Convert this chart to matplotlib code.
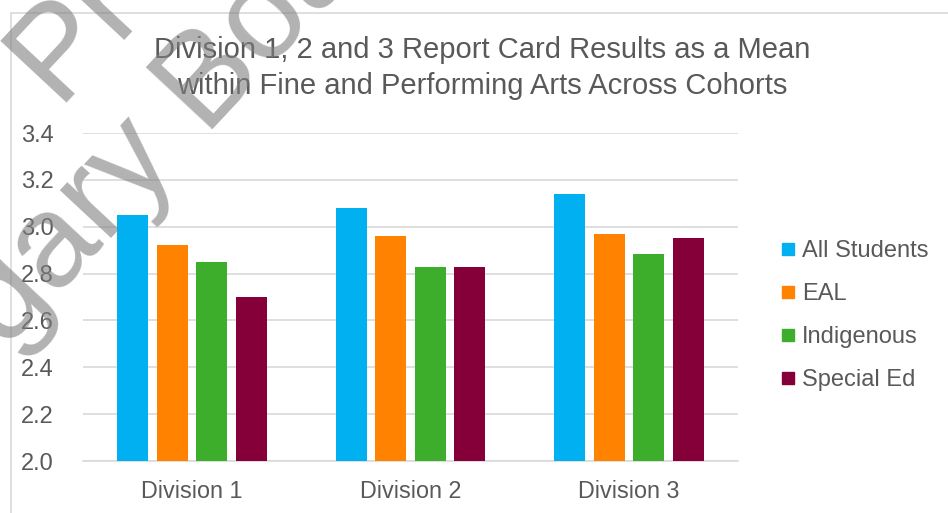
import matplotlib
matplotlib.use("Agg")
import matplotlib.pyplot as plt
import numpy as np
from matplotlib.lines import Line2D
from matplotlib.patches import Rectangle

plt.rcParams.update({
    'font.family': ['Liberation Sans', 'DejaVu Sans'],
    'text.color': '#595959',
    'axes.labelcolor': '#595959',
    'xtick.color': '#595959',
    'ytick.color': '#595959',
})

# data
divisions = ["Division 1", "Division 2", "Division 3"]
groups = ["All Students", "EAL", "Indigenous", "Special Ed"]
all_students = [3.05, 3.08, 3.14]
eal = [2.92, 2.96, 2.97]
indigenous = [2.85, 2.83, 2.885]
special_ed = [2.70, 2.83, 2.95]
colors = ["#00B0F0", "#FF8200", "#3DAE2B", "#850038"]
y_ticks = [2.0, 2.2, 2.4, 2.6, 2.8, 3.0, 3.2, 3.4]

W, H = 948, 513
fig = plt.figure(figsize=(W / 100, H / 100), dpi=100)

# chart border (light gray frame)
fig.patches.append(Rectangle((11 / W, -0.1), 1.2, 1 - 13 / H + 0.1,
                             transform=fig.transFigure, fill=False,
                             edgecolor='#d9d9d9', linewidth=1.2, zorder=0))

ax = fig.add_axes([83 / W, 1 - 461 / H, (738 - 83) / W, (461 - 133) / H])

series = [all_students, eal, indigenous, special_ed]
x = np.arange(len(divisions))
width = 0.142
step = 0.181
for i, (vals, col, lab) in enumerate(zip(series, colors, groups)):
    ax.bar(x + (i - 1.5) * step, np.array(vals) - 2.0, width, bottom=2.0,
           color=col, label=lab, zorder=3)

ax.set_xlim(-0.5, 2.5)
ax.set_ylim(2.0, 3.4)
ax.set_yticks(y_ticks)
ax.set_yticklabels([f"{v:.1f}" for v in y_ticks])
ax.set_xticks(x)
ax.set_xticklabels(divisions)
ax.tick_params(axis='y', length=0, pad=21, labelsize=17)
ax.tick_params(axis='x', length=0, pad=14, labelsize=16.8)
ax.grid(True, axis='y', color='#d9d9d9', linewidth=1.2, zorder=0)
for s in ['top', 'right', 'left']:
    ax.spines[s].set_visible(False)
ax.spines['bottom'].set_color('#d9d9d9')
ax.spines['bottom'].set_linewidth(1.2)

fig.text(482 / W, 1 - 68 / H,
         "Division 1, 2 and 3 Report Card Results as a Mean\n"
         "within Fine and Performing Arts Across Cohorts",
         ha='center', va='center', fontsize=21, linespacing=1.32)

handles = [Line2D([0], [0], marker='s', linestyle='none', markersize=9,
                  markerfacecolor=c, markeredgecolor=c) for c in colors]
fig.legend(handles, groups, loc='upper left',
           bbox_to_anchor=(770 / W, 1 - 231 / H), frameon=False,
           fontsize=17, handlelength=0.7, handletextpad=0.25,
           labelspacing=0.88, borderaxespad=0)

# watermark
wm = dict(fontsize=95, color='#7f7f7f', alpha=0.6, rotation=47,
          rotation_mode='anchor', ha='left', va='baseline',
          transform=fig.transFigure, zorder=10)
fig.text(55 / W, 1 - 103 / H, "Preliminary", **wm)
fig.text(-130 / W, 1 - 497 / H, "Calgary Board", **wm)

fig.savefig("out.png", dpi=100)
